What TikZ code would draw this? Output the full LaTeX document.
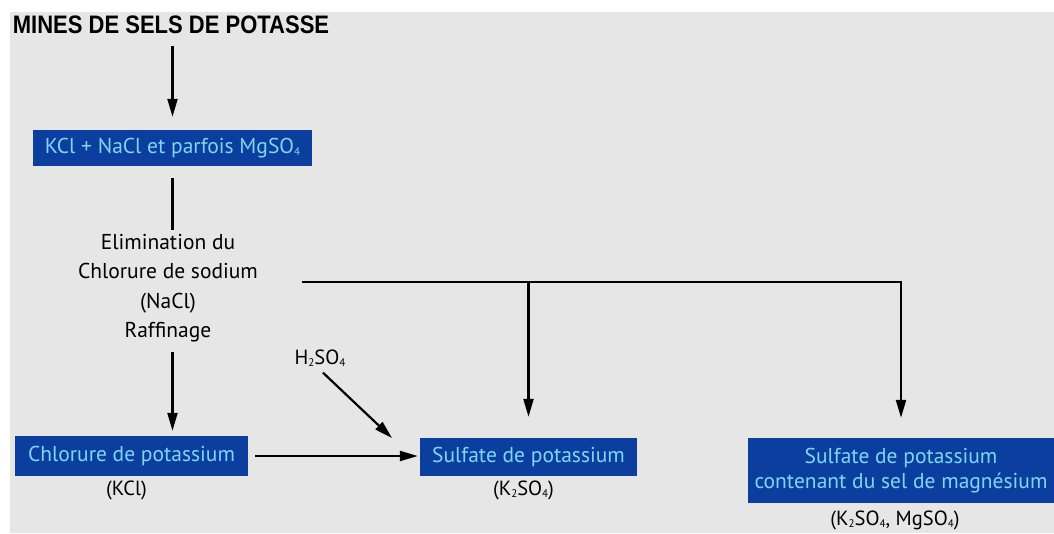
\documentclass[tikz,border=0pt]{standalone}
\usepackage{fontspec}
\setmainfont{PT Sans}
\newfontfamily\titlefont{Liberation Sans}
\usetikzlibrary{positioning,arrows.meta}
\definecolor{boxblue}{RGB}{12,62,160}
\definecolor{boxtext}{RGB}{125,215,240}
\definecolor{paper}{RGB}{230,230,230}
\newcommand{\chemsub}[1]{\raisebox{-0.2ex}{\fontsize{11}{11}\selectfont#1}}

\begin{document}
\begin{tikzpicture}[x=1pt,y=-1pt,
  saltbox/.style={rectangle, fill=boxblue, text=boxtext, inner sep=0pt, font=\fontsize{21.5}{25}\selectfont},
  formula/.style={font=\fontsize{20.5}{24}\selectfont},
  flow/.style={line width=2.2pt, -{Triangle[length=18pt,width=10pt]}},
  plain/.style={line width=2.2pt}]
\useasboundingbox (0,0) rectangle (1054,533);
\fill[white] (0,0) rectangle (1054,533);
\fill[paper] (10,12) rectangle (1054,533);

\node (title) at (171,25) [font=\titlefont\bfseries\fontsize{22}{26}\selectfont] {\scalebox{1}[1.15]{MINES DE SELS DE POTASSE}};
\node (mine) at (172.5,148) [saltbox, minimum width=279pt, minimum height=36pt] {KCl + NaCl et parfois MgSO\chemsub{4}};
\node (elim) at (168,288) [align=center, font=\fontsize{21.5}{29.5}\selectfont] {Elimination du\\Chlorure de sodium\\(NaCl)\\Raffinage};

\node (kcl) at (131.5,456) [saltbox, minimum width=233pt, minimum height=40pt] {Chlorure de potassium};
\node (kclname) [below of=kcl, node distance=34pt, formula, xshift=-5pt] {(KCl)};
\node (sulfate) at (528.5,457) [saltbox, minimum width=217pt, minimum height=38pt] {Sulfate de potassium};
\node (sulfatename) [below of=sulfate, node distance=33pt, formula, xshift=-5pt] {(K\chemsub{2}SO\chemsub{4})};
\node (mgsalt) at (901,470.5) [saltbox, minimum width=306pt, minimum height=65pt, align=center] {Sulfate de potassium\\contenant du sel de magnésium};
\node (mgname) [below of=mgsalt, node distance=50pt, formula, xshift=-6pt] {(K\chemsub{2}SO\chemsub{4}, MgSO\chemsub{4})};
\node (acid) at (320,358) [formula] {H\chemsub{2}SO\chemsub{4}};

\coordinate (fork) at (302,282);
\coordinate (acidend) at (392,438);

\draw [flow, shorten <=9pt, shorten >=13pt] (mine |- title.south) -- (mine.north);
\draw [plain, shorten <=12pt] (mine.south) -- (mine.south |- elim.north);
\draw [flow, shorten <=6pt, shorten >=5pt] (mine.south |- elim.south) -- (mine.south |- kcl.north);
\draw [flow, shorten <=7pt, shorten >=2pt] (kcl.east) -- (kcl.east -| sulfate.west);
\draw [flow, shorten <=4pt] (acid.south) -- (acidend);
\draw [plain] (fork) -- (fork -| sulfate.north);
\draw [flow, shorten >=21pt] (fork -| sulfate.north) -- (sulfate.north);
\draw [flow, shorten >=20pt] (fork) -| (mgsalt.north);
\end{tikzpicture}
\end{document}
